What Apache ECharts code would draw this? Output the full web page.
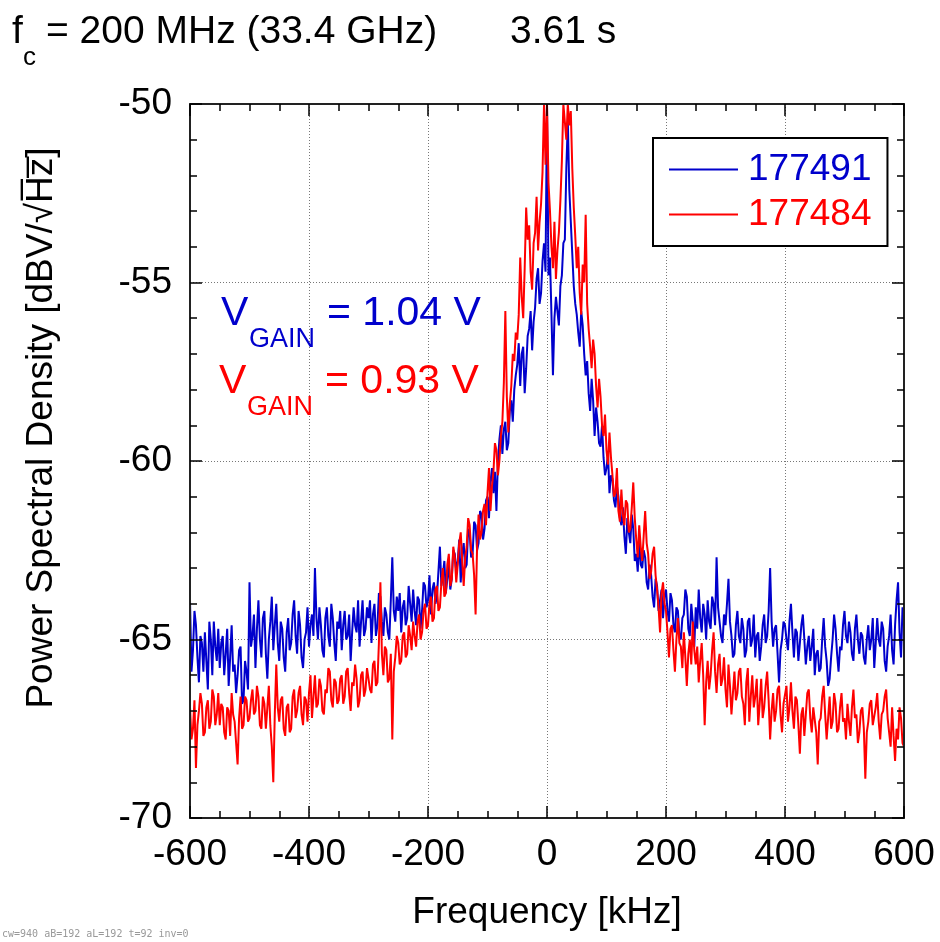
<!DOCTYPE html>
<html>
<head>
<meta charset="utf-8">
<script src="https://cdn.jsdelivr.net/npm/echarts@6/dist/echarts.min.js"></script>
<style>html,body{margin:0;padding:0;background:#fff;}#c{width:940px;height:942px;}#dbg{position:absolute;left:2px;top:928px;font:10px monospace;color:#999;}</style>
</head>
<body>
<div id="c"></div>
<div id="dbg"></div>
<script>
// Frequency grid (kHz): first point and spacing of the spectra below
const freqStart = -600;
const freqStep = 2.5;
const xTicks = [-600, -400, -200, 0, 200, 400, 600];
const yTicks = [-70, -65, -60, -55, -50];

// Series 177491 (blue), V_GAIN = 1.04 V, dBV/sqrt(Hz), -600 .. 600 kHz (one row = 50 kHz)
const psd177491 = [
  -63.9, -65.9, -65.3, -64.2, -64.6, -65.5, -66.2, -64.9, -65.1, -65.9, -64.8, -65.6, -66.4, -64.5, -65.0, -66.0, -64.5, -65.2, -65.6, -64.7,
  -65.8, -65.1, -64.9, -66.0, -65.4, -64.7, -66.3, -65.5, -64.6, -65.9, -65.7, -66.5, -66.0, -65.3, -65.2, -66.8, -66.7, -65.6, -65.9, -66.4,
  -63.4, -65.2, -64.9, -64.3, -65.8, -64.7, -63.9, -65.0, -65.5, -64.4, -64.2, -65.4, -66.1, -65.0, -64.5, -63.8, -65.3, -64.6, -64.0, -65.1,
  -65.6, -64.5, -64.7, -65.5, -65.9, -64.8, -64.4, -65.3, -65.1, -64.3, -63.9, -64.9, -65.4, -64.2, -64.6, -65.5, -65.8, -65.0, -64.8, -64.1,
  -65.2, -64.6, -64.3, -64.9, -63.0, -64.4, -65.0, -64.1, -64.6, -65.3, -65.5, -64.4, -64.1, -64.9, -65.2, -64.0, -64.4, -65.1, -65.6, -64.5,
  -64.7, -64.2, -65.3, -64.6, -64.2, -65.0, -64.9, -64.3, -65.6, -64.8, -64.1, -64.6, -64.8, -63.9, -65.2, -64.5, -63.9, -64.9, -64.7, -64.1,
  -64.4, -63.9, -65.1, -64.3, -64.0, -64.9, -64.6, -63.7, -63.8, -64.5, -64.9, -64.1, -64.3, -64.8, -65.0, -63.9, -62.7, -64.2, -64.5, -63.8,
  -64.2, -63.7, -64.8, -64.1, -63.9, -64.6, -64.4, -63.5, -64.0, -64.5, -63.6, -64.2, -64.6, -63.8, -63.9, -64.7, -64.2, -63.4, -63.5, -64.1,
  -63.9, -63.2, -64.3, -63.6, -63.4, -64.0, -63.8, -63.1, -62.4, -63.5, -63.2, -62.8, -63.7, -63.3, -62.9, -63.6, -63.3, -62.5, -62.6, -63.1,
  -62.8, -62.2, -63.4, -62.6, -62.3, -63.0, -62.9, -61.9, -62.0, -62.7, -62.6, -61.7, -61.8, -62.5, -62.3, -61.4, -61.5, -62.2, -61.9, -61.1,
  -61.0, -61.6, -60.6, -60.2, -60.9, -60.3, -61.4, -60.0, -59.4, -59.0, -59.8, -59.1, -58.9, -59.7, -59.5, -58.6, -58.3, -58.9, -58.0, -57.6,
  -57.3, -56.7, -57.9, -57.0, -56.8, -58.1, -57.4, -56.5, -56.3, -55.8, -56.9, -56.1, -55.7, -54.9, -54.6, -55.6, -55.3, -54.4, -53.9, -54.7,
  -50.0, -54.8, -54.3, -55.9, -57.6, -56.0, -55.4, -55.8, -56.2, -55.1, -54.8, -53.9, -53.8, -51.8, -50.5, -52.4, -53.3, -54.2, -55.1, -55.6,
  -55.9, -56.4, -56.8, -55.8, -56.2, -57.0, -57.6, -57.2, -58.1, -58.6, -57.7, -58.3, -59.3, -58.5, -58.9, -59.5, -59.6, -59.0, -59.9, -60.4,
  -60.2, -59.8, -60.9, -60.4, -60.5, -61.1, -61.3, -60.7, -61.0, -61.6, -61.8, -61.3, -62.1, -62.6, -61.6, -62.0, -62.3, -61.5, -61.9, -62.8,
  -62.6, -63.1, -62.2, -62.9, -63.0, -62.5, -62.7, -63.4, -63.6, -62.9, -63.2, -63.8, -64.1, -63.3, -63.5, -64.2, -63.9, -63.6, -64.4, -63.8,
  -63.6, -64.2, -64.5, -63.7, -63.9, -64.6, -64.8, -64.1, -64.2, -64.9, -65.0, -64.4, -64.3, -63.6, -63.8, -64.7, -64.9, -64.0, -64.5, -65.2,
  -64.1, -64.7, -63.6, -64.4, -64.8, -64.0, -64.3, -65.0, -63.9, -64.5, -64.7, -63.8, -64.0, -64.6, -62.7, -64.1, -64.5, -64.9, -65.1, -64.3,
  -64.6, -64.0, -63.3, -64.5, -64.9, -65.5, -65.4, -64.6, -64.2, -64.9, -65.1, -64.4, -64.7, -65.5, -65.3, -64.5, -64.4, -65.2, -65.0, -64.3,
  -65.5, -64.9, -64.8, -65.6, -65.2, -64.6, -64.3, -65.1, -64.9, -64.2, -63.0, -64.5, -65.2, -64.7, -64.6, -65.4, -66.2, -65.3, -65.0, -64.5,
  -64.6, -65.0, -65.3, -64.5, -64.0, -64.8, -65.5, -64.7, -64.8, -65.6, -65.1, -64.6, -64.3, -65.0, -65.7, -65.2, -64.9, -65.6, -65.2, -64.7,
  -66.0, -65.4, -65.3, -65.9, -65.8, -65.0, -64.4, -65.2, -65.6, -66.3, -66.1, -65.5, -65.0, -64.3, -64.7, -65.4, -65.9, -65.2, -65.3, -64.6,
  -64.2, -64.9, -65.1, -64.5, -64.8, -65.4, -65.6, -64.7, -64.3, -65.0, -65.4, -64.8, -64.9, -65.5, -65.7, -65.0, -64.6, -65.3, -65.0, -64.4,
  -65.8, -65.1, -64.4, -65.0, -65.2, -64.5, -64.7, -65.6, -65.9, -65.2, -64.9, -64.3, -65.3, -65.7, -64.6, -63.9, -63.4, -64.8, -65.5, -64.1,
  -64.4
];

// Series 177484 (red), V_GAIN = 0.93 V
const psd177484 = [
  -66.9, -67.8, -67.5, -66.7, -68.6, -67.4, -67.0, -66.5, -66.8, -67.7, -67.6, -66.9, -66.7, -67.5, -67.3, -66.4, -66.6, -67.4, -67.1, -66.5,
  -67.4, -66.8, -66.9, -67.6, -67.8, -66.9, -67.0, -67.7, -66.5, -67.1, -67.3, -67.9, -68.5, -67.2, -66.6, -67.5, -67.4, -66.6, -66.7, -67.3,
  -67.2, -66.7, -66.4, -67.1, -67.0, -66.3, -66.6, -67.4, -67.5, -66.6, -66.8, -67.5, -66.9, -66.3, -67.4, -68.0, -69.0, -67.1, -65.7, -66.9,
  -67.3, -66.7, -66.6, -67.5, -67.7, -66.9, -66.8, -67.6, -67.5, -66.6, -66.4, -67.2, -67.0, -66.5, -66.3, -67.1, -67.4, -66.6, -66.7, -67.3,
  -66.5, -66.0, -67.2, -66.6, -66.0, -66.9, -66.8, -66.1, -66.3, -67.0, -67.1, -66.4, -66.5, -65.8, -65.9, -66.7, -66.9, -66.1, -66.2, -66.8,
  -66.7, -66.1, -66.0, -66.8, -66.6, -65.9, -65.8, -66.5, -67.0, -66.2, -66.3, -65.7, -66.1, -66.9, -66.7, -66.0, -65.9, -66.6, -66.4, -65.8,
  -65.8, -66.4, -66.5, -65.7, -65.6, -66.3, -66.2, -65.1, -63.4, -65.4, -66.0, -65.2, -65.3, -66.2, -66.1, -65.4, -67.8, -65.9, -65.5, -64.9,
  -65.1, -65.7, -65.6, -64.9, -64.8, -65.5, -65.4, -64.6, -64.9, -65.3, -64.5, -64.9, -65.2, -64.5, -64.3, -65.0, -64.8, -64.2, -64.0, -64.7,
  -64.6, -64.0, -63.8, -64.5, -64.4, -63.6, -63.5, -64.2, -64.1, -63.4, -63.0, -63.8, -63.7, -62.9, -62.6, -63.5, -63.3, -62.4, -62.7, -63.4,
  -62.9, -62.3, -62.0, -62.8, -63.5, -62.7, -62.4, -61.6, -61.8, -62.5, -62.6, -63.2, -64.3, -62.4, -61.5, -62.2, -62.0, -61.4, -61.2, -61.8,
  -60.9, -60.2, -61.4, -60.7, -60.3, -59.5, -59.7, -60.4, -60.0, -59.3, -58.9, -57.8, -55.8, -58.2, -59.2, -58.4, -57.9, -57.0, -57.2, -56.4,
  -56.6, -55.9, -54.3, -55.4, -56.0, -54.6, -52.9, -53.8, -53.4, -54.7, -55.2, -53.9, -53.6, -52.6, -54.1, -53.3, -52.8, -51.9, -50.0, -51.7,
  -50.0, -52.2, -53.0, -54.0, -54.6, -53.3, -54.9, -54.1, -53.6, -52.7, -51.6, -50.0, -50.0, -51.0, -50.0, -50.6, -50.2, -51.8, -52.9, -53.7,
  -54.6, -54.0, -55.3, -55.9, -54.5, -55.0, -53.1, -55.6, -56.3, -56.8, -57.4, -56.6, -57.0, -57.9, -58.5, -57.7, -58.2, -59.0, -59.3, -58.7,
  -59.7, -60.1, -59.2, -59.9, -60.4, -61.0, -60.9, -60.2, -61.4, -61.7, -60.8, -61.5, -61.8, -61.1, -61.2, -62.0, -61.9, -61.3, -60.6, -61.6,
  -62.2, -62.7, -61.8, -62.4, -62.8, -62.1, -61.4, -62.3, -62.6, -63.3, -63.1, -62.6, -62.4, -63.2, -63.6, -64.1, -64.8, -63.7, -63.4, -64.0,
  -64.2, -64.8, -65.5, -64.7, -64.6, -65.3, -65.9, -65.0, -64.4, -65.1, -65.2, -65.8, -64.8, -65.5, -66.3, -65.4, -65.0, -65.7, -64.5, -65.3,
  -65.7, -65.2, -66.2, -65.6, -65.1, -66.0, -67.4, -66.2, -65.6, -66.4, -66.0, -65.3, -64.8, -65.9, -66.5, -65.7, -65.4, -66.3, -66.1, -65.5,
  -66.4, -66.9, -65.7, -66.3, -67.1, -66.5, -65.9, -66.7, -66.5, -65.9, -65.8, -66.6, -66.8, -67.4, -66.2, -65.8, -67.3, -66.6, -66.0, -66.9,
  -66.6, -66.1, -67.4, -66.8, -66.1, -67.2, -66.9, -66.3, -65.9, -66.7, -67.8, -67.0, -66.5, -67.3, -67.0, -66.4, -66.3, -67.1, -67.6, -66.8,
  -66.8, -66.3, -67.3, -66.9, -66.2, -67.0, -67.5, -66.6, -66.7, -67.4, -68.2, -67.1, -66.9, -67.7, -67.1, -66.5, -66.4, -67.2, -67.6, -66.9,
  -66.9, -67.6, -68.5, -67.3, -67.2, -66.6, -66.3, -67.1, -67.8, -67.2, -66.6, -67.5, -67.3, -66.5, -66.8, -67.6, -67.5, -66.9, -66.5, -67.3,
  -67.2, -67.8, -66.8, -67.3, -67.7, -66.9, -66.4, -67.2, -67.1, -67.9, -67.6, -67.0, -66.9, -67.5, -68.9, -67.6, -67.3, -66.8, -66.7, -67.4,
  -67.4, -66.9, -66.5, -67.3, -67.8, -67.1, -67.0, -66.6, -66.4, -67.2, -67.6, -68.0, -66.9, -67.7, -68.4, -67.5, -67.8, -66.9, -67.2, -67.9,
  -68.0
];

const seriesNames = ['177491', '177484'];
const seriesColors = ['#0000CC', '#FF0000'];
const FONT = 'Liberation Sans, Arial, sans-serif';

function toPairs(arr) {
  return arr.map((v, i) => [freqStart + i * freqStep, v]);
}

function xAxisDef(pos, main) {
  const ax = {
    type: 'value', min: xTicks[0], max: xTicks[xTicks.length - 1], interval: 200, position: pos, z: 10,
    axisLine: {show: true, onZero: false, lineStyle: {color: '#222', width: 2}},
    axisTick: {show: true, inside: true, length: 12, lineStyle: {color: '#000', width: 1.5}},
    minorTick: {show: true, splitNumber: 4, length: 7, lineStyle: {color: '#000', width: 1.5}},
    axisLabel: {show: main, fontSize: 37, color: '#000', margin: 18, fontFamily: FONT},
    splitLine: {show: false}
  };
  if (main) {
    ax.name = 'Frequency [kHz]';
    ax.nameLocation = 'middle';
    ax.nameGap = 76;
    ax.nameTextStyle = {fontSize: 37, color: '#000', fontFamily: FONT};
  }
  return ax;
}
function yAxisDef(pos, main) {
  const ax = {
    type: 'value', min: yTicks[0], max: yTicks[yTicks.length - 1], interval: 5, position: pos, z: 10,
    axisLine: {show: true, onZero: false, lineStyle: {color: '#222', width: 2}},
    axisTick: {show: true, inside: true, length: 12, lineStyle: {color: '#000', width: 1.5}},
    minorTick: {show: true, splitNumber: 5, length: 7, lineStyle: {color: '#000', width: 1.5}},
    axisLabel: {show: main, fontSize: 37, color: '#000', margin: 18, fontFamily: FONT},
    splitLine: {show: false}
  };
  if (main) {
    ax.name = 'Power Spectral Density [dBV/\u221AH\u0305z\u0305]';
    ax.nameLocation = 'middle';
    ax.nameGap = 130;
    ax.nameRotate = 90;
    ax.nameTextStyle = {fontSize: 37, color: '#000', fontFamily: FONT, padding: [0, 0, 0, 66]};
  }
  return ax;
}
function gridAxisDef(minV, maxV, step) {
  return {
    type: 'value', min: minV, max: maxV, interval: step, z: 0,
    axisLine: {show: false}, axisTick: {show: false}, minorTick: {show: false}, axisLabel: {show: false},
    splitLine: {show: true, lineStyle: {color: '#777', width: 1, type: [1, 2]}}
  };
}

const option = {
  animation: false,
  grid: {left: 190, top: 104, width: 714, height: 714},
  xAxis: [xAxisDef('bottom', true), xAxisDef('top', false), gridAxisDef(xTicks[0], xTicks[xTicks.length - 1], 200)],
  yAxis: [yAxisDef('left', true), yAxisDef('right', false), gridAxisDef(yTicks[0], yTicks[yTicks.length - 1], 5)],
  legend: {
    left: 653, top: 138, orient: 'vertical',
    padding: [13, 16, 13, 16], itemGap: 8,
    borderColor: '#000', borderWidth: 2, backgroundColor: '#fff',
    icon: 'rect', itemWidth: 69, itemHeight: 2,
    textStyle: {fontSize: 37, fontFamily: FONT, padding: [0, 0, 0, 5]},
    data: seriesNames.map((n, i) => ({name: n, textStyle: {color: seriesColors[i]}}))
  },
  series: [
    {name: seriesNames[0], type: 'line', data: toPairs(psd177491), showSymbol: false, symbol: 'none',
     lineStyle: {color: seriesColors[0], width: 2}, itemStyle: {color: seriesColors[0]}, clip: true, z: 2},
    {name: seriesNames[1], type: 'line', data: toPairs(psd177484), showSymbol: false, symbol: 'none',
     lineStyle: {color: seriesColors[1], width: 2}, itemStyle: {color: seriesColors[1]}, clip: true, z: 3}
  ],
  graphic: [
    {type: 'text', left: 12, top: 13, style: {text: 'f', font: '39px ' + FONT, fill: '#000'}},
    {type: 'text', left: 23, top: 45, style: {text: 'c', font: '26px ' + FONT, fill: '#000'}},
    {type: 'text', left: 46, top: 13, style: {text: '= 200 MHz (33.4 GHz)', font: '39px ' + FONT, fill: '#000'}},
    {type: 'text', left: 510, top: 13, style: {text: '3.61 s', font: '39px ' + FONT, fill: '#000'}},
    {type: 'text', left: 221, top: 293, style: {text: 'V', font: '41px ' + FONT, fill: seriesColors[0]}, z: 10},
    {type: 'text', left: 249, top: 326, style: {text: 'GAIN', font: '27px ' + FONT, fill: seriesColors[0]}, z: 10},
    {type: 'text', left: 327, top: 293, style: {text: '= 1.04 V', font: '41px ' + FONT, fill: seriesColors[0]}, z: 10},
    {type: 'text', left: 219, top: 361, style: {text: 'V', font: '41px ' + FONT, fill: seriesColors[1]}, z: 10},
    {type: 'text', left: 247, top: 394, style: {text: 'GAIN', font: '27px ' + FONT, fill: seriesColors[1]}, z: 10},
    {type: 'text', left: 325, top: 361, style: {text: '= 0.93 V', font: '41px ' + FONT, fill: seriesColors[1]}, z: 10}
  ]
};

const dom = document.getElementById('c');
let chart = echarts.init(dom);
let info = '';
try {
  chart.setOption(option);
  chart.getZr().refreshImmediately();
} catch (e) { info += 'ERR:' + e.message + ' '; }
function maxAlpha(ctx, x, y, w, h) {
  const d = ctx.getImageData(x, y, w, h).data;
  let m = 0;
  for (let i = 3; i < d.length; i += 4) m = Math.max(m, d[i]);
  return m;
}
try {
  const cv = dom.querySelector('canvas');
  const ctx = cv.getContext('2d');
  const aBottom = maxAlpha(ctx, 218, 811, 4, 5);   // minor tick near -550 kHz
  const aLeft = maxAlpha(ctx, 192, 137, 5, 5);     // minor tick near -51 dB
  const list = chart.getZr().storage.getDisplayList(true);
  let t = 0, inv = 0;
  list.forEach(el => { if (el.style && el.style.lineWidth === 1.5) { t++; if (el.invisible) inv++; } });
  info += 'cw=' + cv.width + ' aB=' + aBottom + ' aL=' + aLeft + ' t=' + t + ' inv=' + inv;
  if (aBottom === 0 && aLeft === 0) {
    chart.dispose();
    chart = echarts.init(dom, null, {renderer: 'svg'});
    chart.setOption(option);
    info += ' ->svg';
  }
} catch (e) { info += ' ERR2:' + e.message; }
document.getElementById('dbg').textContent = info;
</script>
</body>
</html>
